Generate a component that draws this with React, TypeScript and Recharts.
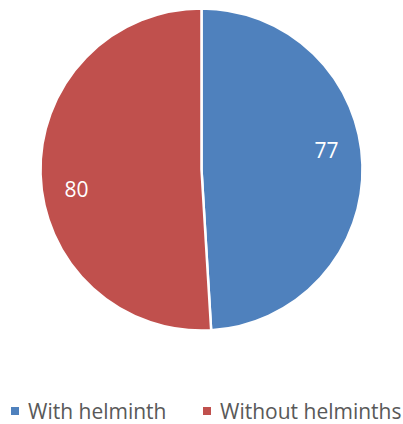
import React from 'react'
import { PieChart, Pie, Cell } from 'recharts'

const categories = ['With helminth', 'Without helminths']
const counts = [77, 80]
const colors = ['#4F81BD', '#C0504D']

const data = categories.map((name, i) => ({ name, value: counts[i] }))

const RAD = Math.PI / 180

const renderLabel = (p: any) => {
  const r = p.outerRadius * 0.786
  const a = (p.midAngle + 7) * RAD
  const x = p.cx + r * Math.cos(-a)
  const y = p.cy + r * Math.sin(-a)
  return (
    <text x={x} y={y} fill="#fff" fontSize={21} textAnchor="middle" dominantBaseline="central"
      fontFamily="'Open Sans', 'Noto Sans', sans-serif">
      {p.value}
    </text>
  )
}

export default function App() {
  return (
    <div style={{ position: 'absolute', left: 0, top: 0, width: 403, height: 424, background: '#fff' }}>
      <PieChart width={403} height={380} margin={{ top: 0, right: 0, bottom: 0, left: 0 }}>
        <Pie data={data} dataKey="value" cx={201.5} cy={169.5} outerRadius={161} startAngle={90} endAngle={-270}
          stroke="#fff" strokeWidth={2.5} label={renderLabel} labelLine={false} isAnimationActive={false}>
          {data.map((d, i) => <Cell key={d.name} fill={colors[i]} />)}
        </Pie>
      </PieChart>
      {categories.map((c, i) => (
        <div key={c} style={{ position: 'absolute', top: 397, height: 28, left: i === 0 ? 11 : 203, display: 'flex',
          alignItems: 'center', whiteSpace: 'nowrap', fontFamily: "'Open Sans', 'Noto Sans', sans-serif",
          fontSize: 21, color: '#595959' }}>
          <span style={{ display: 'inline-block', width: 8, height: 8, background: colors[i], marginRight: 9 }} />
          <span>{c}</span>
        </div>
      ))}
    </div>
  )
}
